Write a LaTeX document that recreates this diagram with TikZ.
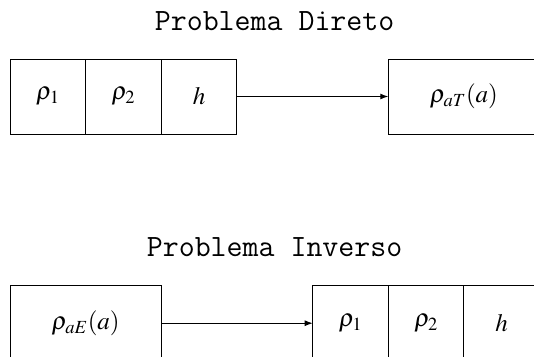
\documentclass[tikz,border=0pt]{standalone}
\usepackage{mathptmx}
\usepackage[no-math]{fontspec}
\usetikzlibrary{arrows.meta,positioning}

\begin{document}
\begin{tikzpicture}[x=1pt,y=-1pt, node distance=0pt, line width=1pt, box/.style={draw,minimum width=75.6pt,minimum height=75pt,inner sep=0pt,outer sep=0pt,font=\fontsize{25}{30}\selectfont}, wide/.style={box,minimum width=151.3pt}, title/.style={anchor=base,font=\fontsize{31}{34}\selectfont\ttfamily}, >={Latex[length=8pt,width=6pt]}]
\useasboundingbox (0,0) rectangle (534,356);
\clip (0,0) rectangle (534,356);
% problema direto
\node[title] (dir) at (274.6,30) {Problema Direto};
\node[box] (a1) at (47.85,96.5) {$\rho_1$};
\node[box,right=of a1] (a2) {$\rho_2$};
\node[box,right=of a2] (a3) {$h$};
\node[wide,right=151.4pt of a3] (aT) {$\rho_{aT}(a)$};
\draw[->] (a3)--(aT);
% problema inverso
\node[title] (inv) at (274.6,256.7) {Problema Inverso};
\node[wide] (bE) at (85.65,323.2) {$\rho_{aE}(a)$};
\node[box,right=151.4pt of bE] (b1) {$\rho_1$};
\node[box,right=of b1] (b2) {$\rho_2$};
\node[box,right=of b2] (b3) {$h$};
\draw[->] (bE)--(b1);
\end{tikzpicture}
\end{document}
